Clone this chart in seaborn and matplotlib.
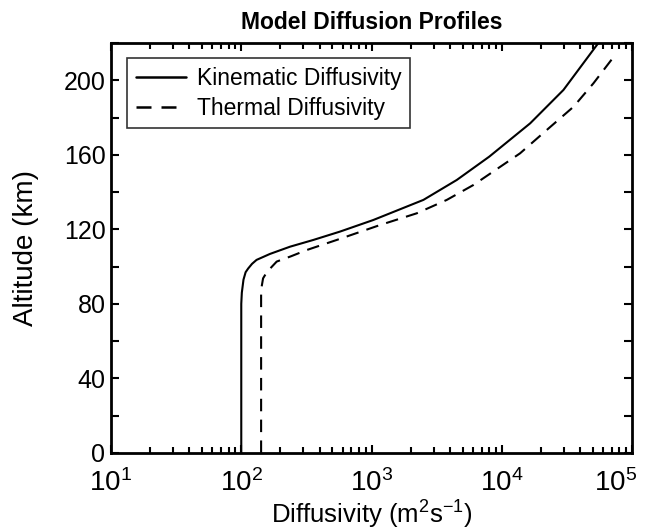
import numpy as np
import pandas as pd
import seaborn as sns
import matplotlib.pyplot as plt
from matplotlib.transforms import ScaledTranslation
from matplotlib.ticker import FixedLocator, LogLocator, NullFormatter


# altitude (km) and diffusivity (m^2 s^-1)
KIN_ALT = [0, 80, 86, 93, 97, 99, 101.5, 103.6, 106.8, 110.7, 114.3, 118.8,
           125, 135.8, 146.5, 159, 176.9, 194.8, 218.9, 222]
KIN_DIFF = [100, 100, 101, 104, 108, 113, 121, 131, 166, 237, 357, 573,
            1030, 2500, 4510, 8000, 16500, 29700, 53600, 58000]

THERM_ALT = [0, 87.5, 93.7, 97, 100, 102.7, 105.5, 108.9, 114.3, 122.3,
             128.6, 135.8, 143.8, 160.8, 173.3, 185.8, 198.4, 213.6]
THERM_DIFF = [142, 142, 147, 157, 172, 187, 240, 318, 540, 1160, 2220, 3780,
              6050, 13800, 22100, 35500, 50500, 74100]

SERIES_NAMES = ['Kinematic Diffusivity', 'Thermal Diffusivity']
Y_TICKS = [0, 40, 80, 120, 160, 200]
Y_MINOR = [20, 60, 100, 140, 180, 220]
X_TICKS = [1e1, 1e2, 1e3, 1e4, 1e5]


def main():
    sns.set_style('white')
    plt.rcParams['font.family'] = ['Liberation Sans', 'DejaVu Sans']
    plt.rcParams['mathtext.fontset'] = 'custom'
    plt.rcParams['mathtext.rm'] = 'Liberation Sans'
    plt.rcParams['mathtext.it'] = 'Liberation Sans'
    for key in ('text.color', 'axes.labelcolor', 'xtick.color',
                'ytick.color'):
        plt.rcParams[key] = 'black'

    df = pd.concat([
        pd.DataFrame({'alt': KIN_ALT, 'diff': KIN_DIFF,
                      'kind': SERIES_NAMES[0]}),
        pd.DataFrame({'alt': THERM_ALT, 'diff': THERM_DIFF,
                      'kind': SERIES_NAMES[1]}),
    ], ignore_index=True)

    fig = plt.figure(figsize=(6.49, 5.31), dpi=100)
    ax = fig.add_axes([0.171, 0.147, 0.803, 0.772])
    sns.lineplot(data=df, x='diff', y='alt', hue='kind', style='kind',
                 palette=['black', 'black'], dashes=[(None, None), (6, 4)],
                 sort=False, estimator=None, linewidth=1.5, ax=ax)

    ax.set_xscale('log')
    ax.set_xlim(1e1, 1e5)
    ax.set_ylim(0, 220)
    ax.set_xticks(X_TICKS)
    ax.set_xticklabels(['$10^{%d}$' % int(np.log10(v)) for v in X_TICKS])
    ax.xaxis.set_minor_locator(LogLocator(base=10, subs=np.arange(2, 10)))
    ax.xaxis.set_minor_formatter(NullFormatter())
    ax.set_yticks(Y_TICKS)
    ax.yaxis.set_minor_locator(FixedLocator(Y_MINOR))

    ax.tick_params(which='both', direction='in', top=True, right=True,
                   bottom=True, left=True, width=1.5, color='black')
    ax.tick_params(which='major', length=6)
    ax.tick_params(which='minor', length=4)
    ax.tick_params(axis='y', which='minor', length=6)
    ax.tick_params(axis='x', pad=12, labelsize=20)
    ax.tick_params(axis='y', pad=4, labelsize=18)
    for sp in ax.spines.values():
        sp.set_linewidth(2)
        sp.set_color('black')

    # pull the last x label in so it stays inside the figure
    last = ax.get_xticklabels()[-1]
    last.set_transform(last.get_transform() +
                       ScaledTranslation(-12 / 72, 0, fig.dpi_scale_trans))

    ax.set_xlabel('Diffusivity (m$^2$s$^{-1}$)', fontsize=18.5, labelpad=1)
    ax.set_ylabel('Altitude (km)', fontsize=20, labelpad=18)
    ax.set_title('Model Diffusion Profiles', fontsize=16.5, fontweight='bold',
                 pad=10)

    leg = ax.legend(loc='upper left', bbox_to_anchor=(0.031, 0.963),
                    borderaxespad=0, fontsize=16.5, frameon=True,
                    fancybox=False, handlelength=2.2, handletextpad=0.45,
                    borderpad=0.38, labelspacing=0.3, title=None)
    leg.get_frame().set_edgecolor('black')
    leg.get_frame().set_linewidth(1.2)
    for line in leg.get_lines():
        line.set_linewidth(1.8)

    fig.savefig('out.png', dpi=100)
    plt.close(fig)


if __name__ == '__main__':
    main()
